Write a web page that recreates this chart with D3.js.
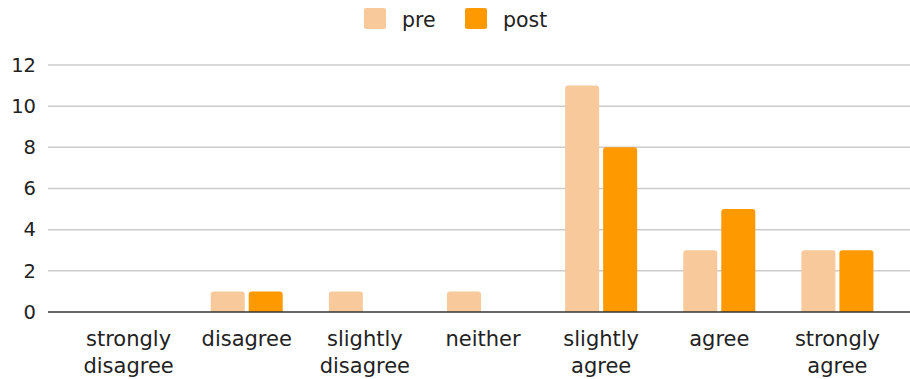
<!DOCTYPE html>
<html>
<head>
<meta charset="utf-8">
<script src="https://cdn.jsdelivr.net/npm/d3@7"></script>
<style>
  body { margin: 0; background: #fff; }
  svg { display: block; font-family: "DejaVu Sans", Verdana, sans-serif; }
</style>
</head>
<body>
<svg id="chart" width="910" height="379"></svg>
<script>
// Likert responses, counted before and after
const categories = ["strongly disagree", "disagree", "slightly disagree", "neither", "slightly agree", "agree", "strongly agree"];
const categoryLines = [["strongly", "disagree"], ["disagree"], ["slightly", "disagree"], ["neither"], ["slightly", "agree"], ["agree"], ["strongly", "agree"]];
const preValues = [0, 1, 1, 1, 11, 3, 3];
const postValues = [0, 1, 0, 0, 8, 5, 3];
const seriesNames = ["pre", "post"];
const seriesColors = ["#f8c99b", "#ff9900"];
const yTicks = [0, 2, 4, 6, 8, 10, 12];

const svg = d3.select("#chart");
const gridLeft = 48, gridRight = 910;
const plotTop = 65, plotBottom = 312;

const x = d3.scaleBand().domain(categories).range([69.5, 896.5]).padding(0);
const y = d3.scaleLinear().domain([0, 12]).range([plotBottom, plotTop]);

// horizontal gridlines
svg.append("g").selectAll("line").data(yTicks.filter(t => t > 0)).join("line")
  .attr("x1", gridLeft).attr("x2", gridRight)
  .attr("y1", d => y(d)).attr("y2", d => y(d))
  .attr("stroke", "#cccccc").attr("stroke-width", 1.5);

// y tick labels
const yAxis = d3.axisLeft(y).tickValues(yTicks).tickSize(0).tickPadding(0);
const yg = svg.append("g").attr("transform", `translate(${36},0)`).call(yAxis);
yg.select(".domain").remove();
yg.selectAll("text").attr("font-size", 19.5).attr("fill", "#222").attr("font-family", "DejaVu Sans, sans-serif");

// bars
const barW = 34, gap = 4;
const series = seriesNames.map((name, i) => ({ name, color: seriesColors[i], values: i === 0 ? preValues : postValues }));

function topRoundedRect(x0, y0, w, h, r) {
  if (h <= 0) return "";
  r = Math.min(r, h, w / 2);
  return `M${x0},${y0 + h}V${y0 + r}Q${x0},${y0} ${x0 + r},${y0}H${x0 + w - r}Q${x0 + w},${y0} ${x0 + w},${y0 + r}V${y0 + h}Z`;
}

series.forEach((s, si) => {
  svg.append("g").selectAll("path").data(categories.map((c, i) => ({ c, v: s.values[i] }))).join("path")
    .attr("d", d => {
      const cx = x(d.c) + x.bandwidth() / 2;
      const x0 = si === 0 ? cx - gap / 2 - barW : cx + gap / 2;
      return topRoundedRect(x0, y(d.v), barW, y(0) - y(d.v), 3);
    })
    .attr("fill", s.color);
});

// baseline
svg.append("line").attr("x1", gridLeft).attr("x2", gridRight)
  .attr("y1", y(0)).attr("y2", y(0)).attr("stroke", "#333").attr("stroke-width", 1.5);

// category labels
const xl = svg.append("g").selectAll("text").data(categories).join("text")
  .attr("text-anchor", "middle")
  .attr("font-size", 21)
  .attr("fill", "#222")
  .attr("transform", d => `translate(${x(d) + x.bandwidth() / 2},${346})`);
xl.each(function (d, i) {
  d3.select(this).selectAll("tspan").data(categoryLines[i]).join("tspan")
    .attr("x", 0).attr("dy", (t, j) => j === 0 ? 0 : 27).text(t => t);
});

// legend
const legend = svg.append("g");
const legendItems = [{ x: 364, name: "pre", color: seriesColors[0] }, { x: 465, name: "post", color: seriesColors[1] }];
legendItems.forEach(it => {
  legend.append("rect").attr("x", it.x).attr("y", 8).attr("width", 22).attr("height", 21).attr("rx", 2).attr("fill", it.color);
  legend.append("text").attr("x", it.x + 38).attr("y", 27).attr("font-size", 20.5).attr("fill", "#222").text(it.name);
});
</script>
</body>
</html>
